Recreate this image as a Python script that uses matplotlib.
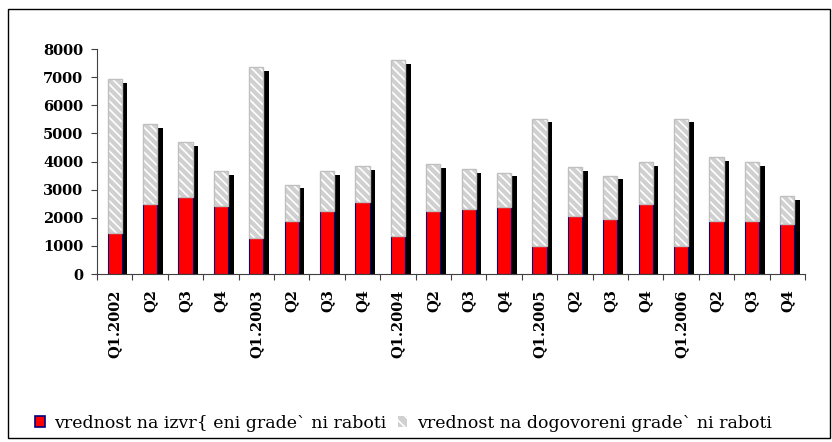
import matplotlib.pyplot as plt
from matplotlib.patches import Rectangle, Patch
import numpy as np

#data
quarters = ['Q1.2002', 'Q2', 'Q3', 'Q4',
            'Q1.2003', 'Q2', 'Q3', 'Q4',
            'Q1.2004', 'Q2', 'Q3', 'Q4',
            'Q1.2005', 'Q2', 'Q3', 'Q4',
            'Q1.2006', 'Q2', 'Q3', 'Q4']
izvrseni = [1470, 2500, 2740, 2430, 1290, 1900, 2250, 2560, 1360, 2250,
            2310, 2380, 1010, 2070, 1960, 2500, 1010, 1900, 1900, 1780]
vkupno = [6940, 5330, 4690, 3650, 7360, 3180, 3650, 3840, 7600, 3900,
          3720, 3600, 5530, 3790, 3500, 3970, 5530, 4150, 3970, 2780]
dogovoreni = [t - r for t, r in zip(vkupno, izvrseni)]

labels = ['vrednost na izvr{ eni grade` ni raboti',
          'vrednost na dogovoreni grade` ni raboti']

#style
red = '#ff0000'
gray = '#d0d0d0'
width = 0.4
plt.rcParams['hatch.linewidth'] = 1.2

fig = plt.figure(figsize=(8.32, 4.42), dpi=100)
ax = fig.add_axes([0.1166, 0.380, 0.851, 0.509])

x = np.arange(len(quarters))

#shadow behind each stacked bar
ax.bar(x + 0.16, np.array(vkupno) - 130, width, color='black', zorder=1)

ax.bar(x, izvrseni, width, color=red, edgecolor='#000080', linewidth=0.8, zorder=2)
ax.bar(x, dogovoreni, width, bottom=izvrseni, color=gray, edgecolor='white',
       hatch='\\\\\\\\', linewidth=0, zorder=2)
ax.bar(x, dogovoreni, width, bottom=izvrseni, fill=False, edgecolor='#c0c0c0',
       linewidth=1.0, zorder=3)

ax.set_xlim(-0.5, len(quarters) - 0.5)
ax.set_ylim(0, 8000)
ax.set_yticks(range(0, 8001, 1000))
ax.set_xticks(np.arange(-0.5, len(quarters), 1.0))
ax.set_xticklabels([])
ax.set_xticks(x, minor=True)
ax.set_xticklabels(quarters, minor=True, rotation=90)
ax.tick_params(axis='x', which='minor', length=0, pad=11)
ax.tick_params(axis='x', which='major', length=4, color='#404040')
ax.tick_params(axis='y', length=4, color='#404040', pad=6)

for lab in ax.get_xticklabels(minor=True) + ax.get_yticklabels():
    lab.set_fontfamily('DejaVu Serif')
    lab.set_fontweight('bold')
    lab.set_fontsize(10.5)

for s in ['top', 'right']:
    ax.spines[s].set_visible(False)
for s in ['left', 'bottom']:
    ax.spines[s].set_color('#404040')

#legend
handles = [Patch(facecolor=red, edgecolor='#000080', linewidth=1.2),
           Patch(facecolor=gray, edgecolor='white', hatch='\\\\\\', linewidth=0)]
fig.legend(handles, labels, loc='center left', bbox_to_anchor=(35 / 832, 19 / 442),
           ncol=2, frameon=False, handlelength=0.55, handleheight=0.55,
           handletextpad=0.55, columnspacing=0.65, borderpad=0, borderaxespad=0,
           prop={'family': 'DejaVu Serif', 'size': 12.5})

#outer frame
fig.patches.append(Rectangle((8 / 832, 4 / 442), 822 / 832, 429 / 442,
                             transform=fig.transFigure, fill=False,
                             edgecolor='black', linewidth=1.0))

fig.savefig('out.png', dpi=100)
